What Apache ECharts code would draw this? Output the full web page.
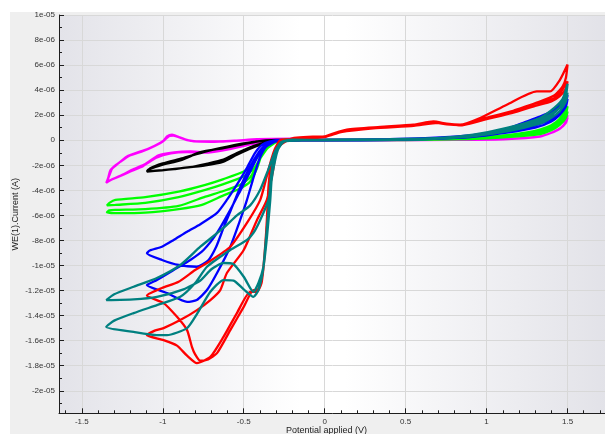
<!DOCTYPE html>
<html><head><meta charset="utf-8">
<script src="https://cdn.jsdelivr.net/npm/echarts@6/dist/echarts.min.js"></script>
<style>html,body{margin:0;padding:0;background:#fff}#c{width:605px;height:434px}</style>
</head><body><div id="c"></div>
<script>
// Tick values (x in V, y in µA; labels shown in A)
const xMajorTicks = [-1.5, -1, -0.5, 0, 0.5, 1, 1.5];
const yMajorTicks = [-20, -18, -16, -14, -12, -10, -8, -6, -4, -2, 0, 2, 4, 6, 8, 10];
const xMinorTicks = [];
for (let k = -16; k <= 17; k++) xMinorTicks.push(k / 10);
const yMinorTicks = [];
for (let k = -21; k <= 9; k += 2) yMinorTicks.push(k);

// Series data: [potential V, current µA]
const magentaData = [
[0,0.02],[0.3,0.04],[0.6,0.08],[0.9,0.18],[1.1,0.32],[1.25,0.5],[1.33,0.7],[1.4,1.0],[1.45,1.35],[1.5,2.0],
[1.49,1.5],[1.46,1.0],[1.4,0.6],[1.33,0.3],[1.125,0.1],[0.8,0.03],[0.4,0.0],[0,-0.02],
[-0.2,-0.02],[-0.3,-0.02],[-0.418,-0.14],[-0.5,-0.4],[-0.626,-0.76],[-0.737,-0.95],[-0.83,-0.9],[-0.93,-0.97],[-1.026,-1.2],[-1.108,-1.9],[-1.18,-2.3],[-1.25,-2.75],[-1.31,-3.1],[-1.349,-3.4],
[-1.337,-3.0],[-1.324,-2.4],[-1.28,-1.9],[-1.221,-1.3],[-1.15,-0.95],[-1.077,-0.62],[-1.0,-0.1],[-0.974,0.3],[-0.943,0.44],[-0.9,0.25],[-0.85,0.02],[-0.77,-0.1],[-0.626,-0.1],[-0.418,0.08],[-0.2,0.12],[0,0.05],
[0.3,0.05],[0.6,0.08],[0.9,0.16],[1.1,0.28],[1.25,0.45],[1.33,0.62],[1.4,0.9],[1.45,1.25],[1.5,1.8],
[1.49,1.4],[1.45,0.9],[1.38,0.5],[1.3,0.25],[1.1,0.08],[0.7,0.02],[0.3,0.0],[0,-0.02],
[-0.3,-0.03],[-0.418,-0.2],[-0.5,-0.45],[-0.626,-0.8],[-0.737,-0.98],[-0.85,-0.95],[-0.95,-1.05],[-1.04,-1.4],[-1.12,-2.05],[-1.2,-2.5],[-1.28,-2.95],[-1.345,-3.3],
[-1.33,-2.8],[-1.31,-2.2],[-1.26,-1.7],[-1.2,-1.2],[-1.12,-0.85],[-1.05,-0.45],[-0.99,0.0],[-0.96,0.35],[-0.935,0.38],[-0.88,0.15],[-0.82,-0.05],[-0.7,-0.12],[-0.5,0.0],[-0.3,0.1],[0,0.04]
];
const blackData = [
[-0.15,0.02],[-0.3,-0.05],[-0.418,-0.36],[-0.542,-1.02],[-0.625,-1.55],[-0.737,-1.9],[-0.83,-2.15],[-0.93,-2.3],[-1.005,-2.4],[-1.098,-2.5],
[-1.09,-2.35],[-1.05,-2.15],[-1.005,-1.96],[-0.882,-1.56],[-0.768,-0.95],[-0.625,-0.62],[-0.5,-0.3],[-0.418,-0.1],[-0.3,0.03],[-0.15,0.02],
[-0.3,-0.08],[-0.418,-0.45],[-0.542,-1.15],[-0.625,-1.7],[-0.737,-2.0],[-0.882,-2.22],[-1.0,-2.38],[-1.09,-2.48],
[-1.08,-2.25],[-1.0,-1.85],[-0.882,-1.45],[-0.737,-0.9],[-0.6,-0.5],[-0.45,-0.15],[-0.3,0.02],[-0.15,0.02]
];
const greenData = [
[0,0.02],[0.4,0.05],[0.8,0.14],[1.0,0.28],[1.125,0.4],[1.25,0.62],[1.33,0.85],[1.4,1.2],[1.45,1.7],[1.5,2.7],
[1.49,2.1],[1.45,1.4],[1.4,0.9],[1.33,0.6],[1.125,0.3],[0.9,0.12],[0.5,0.03],[0,0.0],
[-0.2,0.03],[-0.28,-0.02],[-0.35,-0.6],[-0.4,-1.5],[-0.44,-2.3],[-0.5,-2.9],[-0.625,-3.5],[-0.737,-3.96],[-0.902,-4.54],[-1.108,-5.0],[-1.293,-5.16],[-1.345,-5.2],
[-1.33,-5.0],[-1.293,-4.76],[-1.108,-4.54],[-0.902,-4.1],[-0.737,-3.56],[-0.625,-3.1],[-0.5,-2.5],[-0.44,-1.82],[-0.398,-1.02],[-0.336,-0.36],[-0.254,0.05],[0,0.02],
[0.4,0.05],[0.8,0.12],[1.0,0.24],[1.125,0.36],[1.25,0.55],[1.33,0.75],[1.4,1.05],[1.45,1.5],[1.5,2.3],
[1.49,1.8],[1.45,1.2],[1.4,0.8],[1.33,0.5],[1.125,0.25],[0.9,0.1],[0.5,0.02],[0,0.0],
[-0.2,0.0],[-0.32,-0.15],[-0.38,-0.9],[-0.42,-2.3],[-0.46,-3.3],[-0.522,-3.85],[-0.625,-4.4],[-0.758,-5.16],[-0.902,-5.5],[-1.108,-5.78],[-1.293,-5.82],[-1.345,-5.75],
[-1.33,-5.6],[-1.293,-5.56],[-1.108,-5.5],[-0.902,-5.24],[-0.737,-4.5],[-0.625,-4.05],[-0.522,-3.55],[-0.46,-2.95],[-0.418,-2.0],[-0.378,-0.76],[-0.316,-0.1],[-0.2,0.03],[0,0.02]
];
const blueData = [
[0,0.03],[0.4,0.08],[0.8,0.28],[1.0,0.55],[1.125,0.9],[1.227,1.4],[1.33,1.9],[1.4,2.3],[1.45,2.8],[1.5,3.6],
[1.49,3.0],[1.45,2.2],[1.4,1.7],[1.3,1.2],[1.125,0.7],[0.9,0.3],[0.5,0.06],[0,0.0],
[-0.2,0.02],[-0.3,-0.05],[-0.36,-0.3],[-0.42,-1.2],[-0.48,-2.6],[-0.53,-4.0],[-0.58,-5.6],[-0.625,-7.0],[-0.67,-8.5],[-0.72,-9.6],[-0.79,-10.1],[-0.902,-9.96],[-1.005,-9.56],[-1.098,-9.02],
[-1.08,-8.8],[-1.005,-8.5],[-0.933,-7.96],[-0.85,-7.3],[-0.768,-6.7],[-0.665,-5.8],[-0.604,-4.76],[-0.54,-3.5],[-0.48,-2.2],[-0.43,-1.0],[-0.38,-0.3],[-0.3,0.0],[0,0.02],
[0.4,0.07],[0.8,0.25],[1.0,0.5],[1.125,0.8],[1.227,1.2],[1.33,1.7],[1.4,2.1],[1.45,2.6],[1.5,3.3],
[1.49,2.7],[1.45,2.0],[1.4,1.5],[1.3,1.0],[1.125,0.6],[0.9,0.25],[0.5,0.05],[0,0.0],
[-0.2,0.0],[-0.3,-0.1],[-0.36,-0.5],[-0.4,-1.4],[-0.44,-3.0],[-0.48,-4.76],[-0.522,-6.36],[-0.583,-8.5],[-0.665,-10.6],[-0.727,-11.96],[-0.79,-12.76],[-0.85,-12.9],[-0.974,-12.2],[-1.098,-11.56],
[-1.036,-11.16],[-0.933,-10.36],[-0.83,-9.56],[-0.748,-8.76],[-0.665,-7.4],[-0.583,-5.56],[-0.52,-4.0],[-0.46,-2.5],[-0.41,-1.2],[-0.36,-0.4],[-0.3,-0.05],[0,0.02]
];
const redData = [
[0,0.3],[0.137,0.84],[0.343,1.06],[0.548,1.24],[0.672,1.5],[0.754,1.32],[0.836,1.24],[0.96,1.78],[1.125,2.84],[1.31,3.9],[1.392,3.9],[1.454,4.84],[1.5,6.04],
[1.49,5.0],[1.47,4.3],[1.42,3.6],[1.31,3.0],[1.165,2.3],[0.96,1.64],[0.836,1.2],[0.754,1.26],[0.672,1.42],[0.548,1.18],[0.343,1.0],[0.137,0.78],[0,0.28],[-0.1,0.18],[-0.2,0.1],[-0.275,0.0],
[-0.3,-0.5],[-0.326,-1.5],[-0.347,-3.7],[-0.357,-6.36],[-0.37,-9.0],[-0.388,-11.2],[-0.418,-11.96],[-0.44,-11.96],[-0.5,-13.3],[-0.583,-15.16],[-0.665,-17.0],[-0.72,-17.5],[-0.77,-17.6],[-0.8,-17.1],[-0.82,-16.5],[-0.85,-15.16],[-0.912,-14.1],[-0.995,-13.0],[-1.098,-12.4],
[-1.005,-11.8],[-0.902,-11.3],[-0.8,-10.36],[-0.727,-9.8],[-0.583,-8.5],[-0.48,-6.6],[-0.398,-4.76],[-0.35,-2.5],[-0.3,-0.5],[-0.2,0.15],[0,0.3],
[0.137,0.8],[0.343,1.02],[0.548,1.2],[0.672,1.46],[0.754,1.3],[0.836,1.22],[0.96,1.66],[1.165,2.35],[1.3,2.95],[1.41,3.3],[1.46,3.9],[1.5,4.7],
[1.49,4.1],[1.45,3.5],[1.4,3.1],[1.3,2.75],[1.165,2.2],[0.96,1.55],[0.836,1.18],[0.7,1.38],[0.55,1.15],[0.3,0.95],[0.1,0.65],[0,0.25],[-0.2,0.08],[-0.275,-0.05],
[-0.3,-0.6],[-0.326,-1.6],[-0.347,-3.8],[-0.357,-6.5],[-0.372,-9.2],[-0.39,-11.4],[-0.42,-12.1],[-0.46,-12.1],[-0.542,-13.8],[-0.625,-15.7],[-0.706,-17.3],[-0.789,-17.8],[-0.85,-17.2],[-0.912,-16.4],[-0.995,-15.96],[-1.098,-15.56],
[-1.05,-15.2],[-0.995,-15.0],[-0.892,-14.36],[-0.789,-13.56],[-0.706,-12.76],[-0.645,-11.96],[-0.604,-10.6],[-0.5,-8.76],[-0.418,-6.36],[-0.357,-4.76],[-0.32,-2.5],[-0.29,-0.6],[-0.2,0.15],[0,0.3]
];
const tealData = [
[0,0.05],[0.4,0.08],[0.713,0.18],[0.918,0.44],[1.125,0.98],[1.33,1.78],[1.42,2.6],[1.47,3.3],[1.5,4.5],
[1.49,3.6],[1.45,2.6],[1.4,2.0],[1.33,1.5],[1.125,0.8],[0.9,0.35],[0.6,0.1],[0,0.02],
[-0.2,0.05],[-0.26,-0.1],[-0.29,-0.6],[-0.31,-1.5],[-0.326,-2.8],[-0.336,-4.76],[-0.347,-6.4],[-0.357,-7.8],[-0.378,-10.1],[-0.409,-11.4],[-0.44,-12.1],[-0.46,-11.8],[-0.5,-10.9],[-0.563,-9.9],[-0.625,-9.8],[-0.7,-10.3],[-0.768,-11.2],[-0.872,-11.9],[-1.036,-12.5],[-1.18,-12.7],[-1.349,-12.76],
[-1.3,-12.3],[-1.18,-11.7],[-1.036,-11.0],[-0.892,-9.96],[-0.768,-8.5],[-0.625,-7.0],[-0.542,-6.0],[-0.46,-5.2],[-0.4,-4.0],[-0.35,-2.4],[-0.3,-0.7],[-0.25,-0.05],[0,0.03],
[0.4,0.07],[0.713,0.16],[0.918,0.4],[1.125,0.9],[1.33,1.6],[1.42,2.3],[1.47,2.9],[1.5,3.8],
[1.49,3.1],[1.45,2.3],[1.4,1.8],[1.33,1.35],[1.125,0.7],[0.9,0.3],[0.6,0.08],[0,0.02],
[-0.2,0.03],[-0.27,-0.15],[-0.3,-0.8],[-0.32,-1.8],[-0.336,-3.5],[-0.347,-5.5],[-0.36,-7.5],[-0.38,-10.3],[-0.409,-11.96],[-0.44,-12.5],[-0.5,-11.9],[-0.563,-11.2],[-0.625,-11.16],[-0.706,-12.1],[-0.79,-13.9],[-0.85,-15.0],[-0.974,-15.56],[-1.036,-15.56],[-1.18,-15.3],[-1.349,-14.9],
[-1.3,-14.4],[-1.18,-13.8],[-1.036,-13.16],[-0.892,-12.5],[-0.8,-11.4],[-0.727,-10.1],[-0.583,-8.76],[-0.48,-7.96],[-0.44,-7.4],[-0.398,-6.36],[-0.347,-4.76],[-0.32,-2.5],[-0.29,-0.8],[-0.25,-0.1],[0,0.03]
];

const seriesDefs = [
  {name:'magenta', data:magentaData, color:'#ff00ff'},
  {name:'black', data:blackData, color:'#000000'},
  {name:'green', data:greenData, color:'#00ff00'},
  {name:'blue', data:blueData, color:'#0000ff'},
  {name:'red', data:redData, color:'#ff0000'},
  {name:'teal', data:tealData, color:'#008080'}
];

function fmtY(v) {
  if (Math.abs(v) < 1e-9) return '0';
  const a = Math.abs(v);
  let exp, m;
  if (a >= 10) { exp = 5; m = v / 10; } else { exp = 6; m = v; }
  m = Math.round(m * 100) / 100;
  return m + 'e-0' + exp;
}

const FONT = 'Liberation Sans, Arial, sans-serif';
const xMin = -1.641, xMax = 1.75, yMin = -21.8, yMax = 10;
const axisColor = '#1e1e1e';

const chart = echarts.init(document.getElementById('c'), null, {renderer: 'canvas'});
chart.setOption({
  animation: false,
  backgroundColor: '#ffffff',
  graphic: [{
    type: 'rect', z: -100, silent: true,
    shape: {x: 10, y: 12, width: 600, height: 430},
    style: {fill: '#efefef'}
  }],
  grid: {
    left: 59, top: 15, width: 549, height: 398.3, containLabel: false,
    outerBoundsMode: 'none',
    show: true, borderWidth: 0,
    backgroundColor: new echarts.graphic.LinearGradient(0, 0, 1, 0, [
      {offset: 0, color: '#e3e3e9'},
      {offset: 0.44, color: '#ffffff'},
      {offset: 0.52, color: '#ffffff'},
      {offset: 1, color: '#e2e2e8'}
    ])
  },
  xAxis: [{
    type: 'value', min: xMin, max: xMax, position: 'bottom',
    axisLine: {onZero: false, lineStyle: {color: axisColor, width: 1}},
    axisTick: {inside: true, length: 5, customValues: xMajorTicks, lineStyle: {color: axisColor}},
    axisLabel: {customValues: xMajorTicks, fontSize: 8, color: '#333', margin: 4, fontFamily: FONT},
    splitLine: {show: true, lineStyle: {color: '#d8d8d8', width: 1}},
    name: 'Potential applied (V)', nameLocation: 'middle', nameGap: 13, nameMoveOverlap: false,
    nameTextStyle: {fontSize: 9, color: '#222', fontFamily: FONT, padding: [0, 14, 0, 0]}
  }, {
    type: 'value', min: xMin, max: xMax, position: 'bottom',
    axisLine: {show: false, onZero: false},
    axisTick: {inside: true, length: 3, customValues: xMinorTicks, lineStyle: {color: axisColor}},
    axisLabel: {show: false}, splitLine: {show: false}
  }],
  yAxis: [{
    type: 'value', min: yMin, max: yMax, position: 'left',
    axisLine: {show: true, onZero: false, lineStyle: {color: axisColor, width: 1}},
    axisTick: {show: true, inside: true, length: 5, customValues: yMajorTicks, lineStyle: {color: axisColor}},
    axisLabel: {customValues: yMajorTicks, formatter: fmtY, fontSize: 8, color: '#333', margin: 4, fontFamily: FONT},
    splitLine: {show: true, lineStyle: {color: '#d8d8d8', width: 1}},
    name: 'WE(1).Current (A)', nameLocation: 'middle', nameGap: 39, nameRotate: 90, nameMoveOverlap: false,
    nameTextStyle: {fontSize: 9, color: '#222', fontFamily: FONT}
  }, {
    type: 'value', min: yMin, max: yMax, position: 'left',
    axisLine: {show: false, onZero: false},
    axisTick: {show: true, inside: true, length: 3, customValues: yMinorTicks, lineStyle: {color: axisColor}},
    axisLabel: {show: false}, splitLine: {show: false}
  }],
  series: seriesDefs.map(s => ({
    type: 'line', name: s.name, data: s.data,
    xAxisIndex: 0, yAxisIndex: 0,
    symbol: 'none', showSymbol: false, smooth: 0.2,
    lineStyle: {color: s.color, width: 2.3},
    itemStyle: {color: s.color},
    emphasis: {disabled: true}
  }))
});
</script>
</body></html>
